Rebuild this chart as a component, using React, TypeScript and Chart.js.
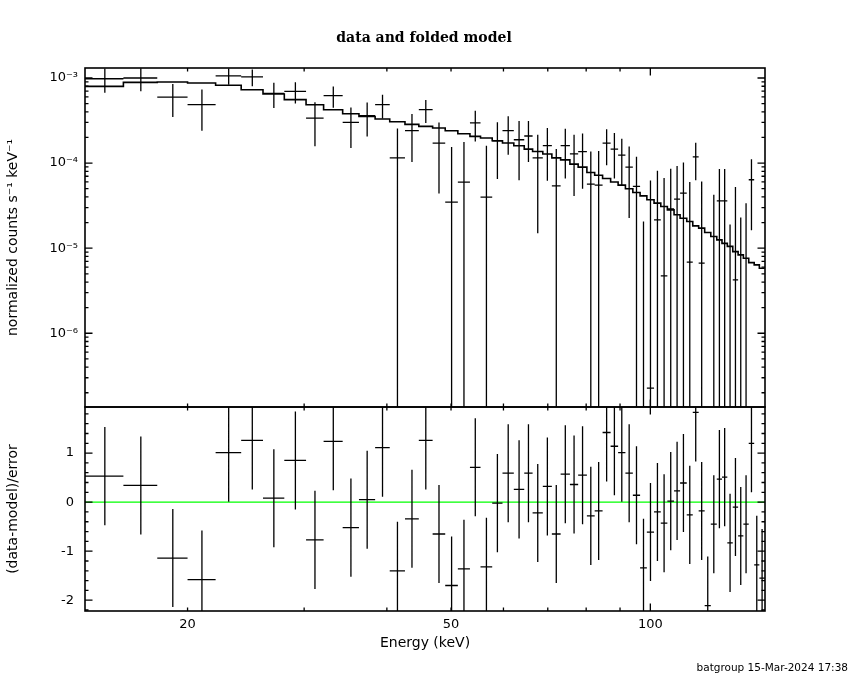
import React, { useEffect, useRef } from 'react';
import { Chart, registerables } from 'chart.js';

Chart.register(...registerables);

// ---------- text ----------
const TITLE = 'data and folded model';
const FOOTER = 'batgroup 15-Mar-2024 17:38';
const X_TITLE = 'Energy (keV)';
const Y_TITLE_TOP = 'normalized counts s\u207B\u00B9 keV\u207B\u00B9';
const Y_TITLE_RES = '(data-model)/error';

// ---------- data ----------
// energy bin edges (keV)
const binEdges = [
  14.0, 16.0, 18.0, 20.0, 22.05, 24.1, 26.0, 28.0, 30.2, 32.1,
  34.3, 36.3, 38.4, 40.4, 42.6, 44.7, 46.9, 49.0, 51.2, 53.4,
  55.4, 57.7, 59.8, 62.2, 64.5, 66.4, 68.8, 71.0, 73.2, 75.6,
  77.8, 80.2, 82.4, 84.7, 87.1, 89.4, 91.7, 94.1, 96.5, 98.8,
  101.3, 103.7, 106.1, 108.6, 110.9, 113.5, 115.9, 118.3, 120.8, 123.4,
  126.0, 128.3, 130.7, 133.2, 135.7, 138.2, 140.8, 143.5, 146.1, 148.9,
];

// folded model (counts s^-1 keV^-1)
const modelRate = [
  7.96e-4, 8.88e-4, 8.97e-4, 8.73e-4, 8.2e-4, 7.28e-4, 6.49e-4, 5.56e-4, 4.85e-4, 4.24e-4,
  3.8e-4, 3.53e-4, 3.3e-4, 3.06e-4, 2.85e-4, 2.7e-4, 2.58e-4, 2.4e-4, 2.21e-4, 2.06e-4,
  1.97e-4, 1.83e-4, 1.72e-4, 1.6e-4, 1.46e-4, 1.37e-4, 1.28e-4, 1.15e-4, 1.09e-4, 9.73e-5,
  8.97e-5, 7.75e-5, 7.2e-5, 6.6e-5, 6.0e-5, 5.5e-5, 5.0e-5, 4.51e-5, 4.12e-5, 3.7e-5,
  3.38e-5, 3.09e-5, 2.82e-5, 2.47e-5, 2.25e-5, 2.06e-5, 1.83e-5, 1.72e-5, 1.53e-5, 1.37e-5,
  1.25e-5, 1.14e-5, 1.05e-5, 9.1e-6, 8.34e-6, 7.62e-6, 6.77e-6, 6.36e-6, 5.82e-6,
];

// data (counts s^-1 keV^-1)
const dataRate = [
  9.8e-4, 1.0e-3, 5.97e-4, 4.85e-4, 1.06e-3, 1.03e-3, 6.6e-4, 6.96e-4, 3.38e-4, 6.19e-4,
  3.0e-4, 3.6e-4, 4.85e-4, 1.15e-4, 2.4e-4, 4.24e-4, 1.72e-4, 3.48e-5, 5.97e-5, 2.96e-4,
  3.98e-5, 1.83e-4, 2.4e-4, 1.88e-4, 2.08e-4, 1.15e-4, 1.6e-4, 5.41e-5, 1.6e-4, 1.28e-4,
  1.36e-4, 5.66e-5, 5.5e-5, 1.72e-4, 1.46e-4, 1.24e-4, 8.97e-5, 5.33e-5, -4.0e-5, 2.27e-7,
  2.15e-5, 4.72e-6, 2.9e-5, 3.77e-5, 4.44e-5, 6.84e-6, 1.18e-4, 6.67e-6, -9.4e-5, -9.7e-6,
  3.6e-5, 3.6e-5, -2.9e-5, 4.24e-6, -2.5e-5, -1.38e-5, 6.37e-5, -5.4e-5, -6.7e-5,
];

// 1-sigma data errors
const dataErr = [
  3.1e-4, 3.04e-4, 2.5e-4, 2.45e-4, 2.3e-4, 2.3e-4, 2.17e-4, 1.94e-4, 1.8e-4, 1.73e-4,
  1.5e-4, 1.55e-4, 1.5e-4, 1.4e-4, 1.37e-4, 1.28e-4, 1.28e-4, 1.2e-4, 1.17e-4, 1.17e-4,
  1.2e-4, 1.18e-4, 1.15e-4, 1.25e-4, 1.05e-4, 1.0e-4, 9.8e-5, 9.2e-5, 9.4e-5, 8.7e-5,
  8.6e-5, 8.0e-5, 8.4e-5, 7.8e-5, 8.0e-5, 6.9e-5, 6.7e-5, 6.5e-5, 6.06e-5, 6.2e-5,
  6.0e-5, 6.2e-5, 5.7e-5, 5.5e-5, 5.7e-5, 5.3e-5, 5.5e-5, 5.4e-5, 5.2e-5, 5.2e-5,
  4.9e-5, 4.9e-5, 4.8e-5, 4.8e-5, 4.8e-5, 4.76e-5, 4.75e-5, 4.7e-5, 4.7e-5,
];

// (data-model)/error
const residual = [
  0.53, 0.34, -1.14, -1.58, 1.01, 1.26, 0.08, 0.85, -0.77, 1.24,
  -0.52, 0.05, 1.11, -1.40, -0.34, 1.26, -0.65, -1.70, -1.36, 0.71,
  -1.32, -0.02, 0.59, 0.26, 0.59, -0.22, 0.32, -0.65, 0.57, 0.36,
  0.55, -0.28, -0.18, 1.42, 1.14, 1.01, 0.59, 0.14, -1.34, -0.61,
  -0.20, -0.43, 0.02, 0.23, 0.39, -0.26, 1.83, -0.18, -2.11, -0.45,
  0.47, 0.51, -0.83, -0.10, -0.69, -0.45, 1.20, -1.28, -1.55,
];
const RESID_ERR = 1;

// ---------- axes ----------
const xRange = [14, 149];
const yTopRange = [1.36e-7, 1.31e-3];
const yResRange = [-2.22, 1.94];
const xLabelTicks = [20, 50, 100];
const xMinorTicks = [20, 30, 40, 50, 60, 70, 80, 90];
const xMajorTicks = [100];
const yTopLabelTicks = [1e-6, 1e-5, 1e-4, 1e-3];
const yTopDecades = [1e-7, 1e-6, 1e-5, 1e-4, 1e-3];
const yTopMinorMultipliers = [2, 3, 4, 5, 6, 7, 8, 9];
const yResLabelTicks = [-2, -1, 0, 1];
const yResMinorStep = 0.2;

const SUP: Record<string, string> = {
  '-': '\u207B', '0': '\u2070', '1': '\u00B9', '2': '\u00B2', '3': '\u00B3',
  '4': '\u2074', '5': '\u2075', '6': '\u2076', '7': '\u2077', '8': '\u2078', '9': '\u2079',
};
const powLabel = (v: number) => {
  const e = Math.round(Math.log10(v));
  return '10' + String(e).split('').map((c) => SUP[c] || c).join('');
};

const SANS = 'DejaVu Sans';

const xspecPlugin = {
  id: 'xspecPanels',
  afterDatasetsDraw(chart: any) {
    const ctx = chart.ctx as CanvasRenderingContext2D;
    const xs = chart.scales.x;
    const yt = chart.scales.y;
    const yr = chart.scales.y2;
    const L = chart.chartArea.left;
    const R = chart.chartArea.right;
    const nBins = binEdges.length - 1;

    const drawCrosses = (ys: any, vals: number[], errs: (i: number) => number, isLog: boolean) => {
      ctx.save();
      ctx.beginPath();
      ctx.rect(L, ys.top, R - L, ys.bottom - ys.top);
      ctx.clip();
      const pix = (v: number) => {
        if (isLog && v <= 0) return ys.bottom + 10;
        return ys.getPixelForValue(v);
      };
      ctx.strokeStyle = '#000';
      ctx.lineWidth = 1.3;
      ctx.beginPath();
      for (let i = 0; i < nBins; i++) {
        const lo = binEdges[i];
        const hi = binEdges[i + 1];
        const xl = xs.getPixelForValue(lo);
        const xh = xs.getPixelForValue(hi);
        const xc = xs.getPixelForValue((lo + hi) / 2);
        const v = vals[i];
        const e = errs(i);
        const yU = pix(v + e);
        const yL = pix(v - e);
        const yC = pix(v);
        ctx.moveTo(xc, yU);
        ctx.lineTo(xc, yL);
        ctx.moveTo(xl, yC);
        ctx.lineTo(xh, yC);
      }
      ctx.stroke();
      ctx.restore();
    };

    drawCrosses(yt, dataRate, (i) => dataErr[i], true);
    drawCrosses(yr, residual, () => RESID_ERR, false);

    const MAJ = 7.5;
    const MIN = 3.5;
    const drawFrame = (ys: any, yTicks: { v: number; major: boolean }[]) => {
      const T = ys.top;
      const B = ys.bottom;
      ctx.save();
      ctx.strokeStyle = '#000';
      ctx.lineWidth = 1.3;
      ctx.beginPath();
      const xt = [
        ...xMinorTicks.map((v) => ({ v, major: false })),
        ...xMajorTicks.map((v) => ({ v, major: true })),
      ];
      for (const t of xt) {
        const px = xs.getPixelForValue(t.v);
        const len = t.major ? MAJ : MIN;
        ctx.moveTo(px, T);
        ctx.lineTo(px, T + len);
        ctx.moveTo(px, B);
        ctx.lineTo(px, B - len);
      }
      for (const t of yTicks) {
        const py = ys.getPixelForValue(t.v);
        if (py < T - 0.5 || py > B + 0.5) continue;
        const len = t.major ? MAJ : MIN;
        ctx.moveTo(L, py);
        ctx.lineTo(L + len, py);
        ctx.moveTo(R, py);
        ctx.lineTo(R - len, py);
      }
      ctx.stroke();
      ctx.lineWidth = 1.6;
      ctx.strokeRect(L, T, R - L, B - T);
      ctx.restore();
    };

    const topTicks: { v: number; major: boolean }[] = [];
    for (const d of yTopDecades) {
      topTicks.push({ v: d, major: true });
      for (const m of yTopMinorMultipliers) topTicks.push({ v: d * m, major: false });
    }
    const resTicks: { v: number; major: boolean }[] = [];
    const kMin = Math.ceil(yResRange[0] / yResMinorStep - 1e-9);
    const kMax = Math.floor(yResRange[1] / yResMinorStep + 1e-9);
    for (let k = kMin; k <= kMax; k++) {
      const v = Math.round(k * yResMinorStep * 10) / 10;
      resTicks.push({ v, major: yResLabelTicks.includes(v) });
    }
    drawFrame(yt, topTicks);
    drawFrame(yr, resTicks);
  },
};

export default function App() {
  const canvasRef = useRef<HTMLCanvasElement | null>(null);

  useEffect(() => {
    const canvas = canvasRef.current;
    if (!canvas) return;
    Chart.defaults.color = '#000';

    const centers = binEdges.slice(0, -1).map((lo, i) => (lo + binEdges[i + 1]) / 2);
    const modelSteps = [
      ...modelRate.map((m, i) => ({ x: binEdges[i], y: m })),
      { x: binEdges[binEdges.length - 1], y: modelRate[modelRate.length - 1] },
    ];

    const chart = new Chart(canvas, {
      type: 'line',
      data: {
        datasets: [
          {
            type: 'line',
            label: 'model',
            data: modelSteps,
            stepped: true,
            borderColor: '#000',
            borderWidth: 1.6,
            pointRadius: 0,
            fill: false,
            xAxisID: 'x',
            yAxisID: 'y',
          },
          {
            type: 'scatter',
            label: 'data',
            data: centers.map((c, i) => ({ x: c, y: dataRate[i] })).filter((p) => p.y > 0),
            pointRadius: 0,
            xAxisID: 'x',
            yAxisID: 'y',
          },
          {
            type: 'line',
            label: 'zero',
            data: [
              { x: xRange[0], y: 0 },
              { x: xRange[1], y: 0 },
            ],
            borderColor: '#00ff00',
            borderWidth: 1.4,
            pointRadius: 0,
            fill: false,
            xAxisID: 'x',
            yAxisID: 'y2',
          },
          {
            type: 'scatter',
            label: 'residual',
            data: centers.map((c, i) => ({ x: c, y: residual[i] })),
            pointRadius: 0,
            xAxisID: 'x',
            yAxisID: 'y2',
          },
        ],
      } as any,
      options: {
        responsive: false,
        animation: false,
        devicePixelRatio: 1,
        layout: { padding: { left: 0, right: 2, top: 0, bottom: 0 } },
        plugins: {
          legend: { display: false },
          tooltip: { enabled: false },
          title: {
            display: true,
            text: TITLE,
            color: '#000',
            font: { family: 'DejaVu Serif', size: 14, weight: 'bold', lineHeight: 1.2 },
            padding: { top: 29.6, bottom: 21.6 },
          },
          subtitle: {
            display: true,
            position: 'bottom',
            align: 'end',
            text: FOOTER,
            color: '#000',
            font: { family: SANS, size: 10.5, lineHeight: 1.2 },
            padding: { top: 8.7, bottom: 5.7 },
          },
        },
        scales: {
          x: {
            type: 'logarithmic',
            position: 'bottom',
            min: xRange[0],
            max: xRange[1],
            grid: { display: false, drawTicks: false },
            border: { display: false },
            afterBuildTicks: (s: any) => {
              s.ticks = xLabelTicks.map((v) => ({ value: v }));
            },
            afterFit: (s: any) => {
              s.height = 42;
            },
            ticks: {
              autoSkip: false,
              maxRotation: 0,
              padding: 6,
              color: '#000',
              font: { family: SANS, size: 13 },
              callback: (v: any) => String(v),
            },
            title: {
              display: true,
              text: X_TITLE,
              color: '#000',
              font: { family: SANS, size: 14, lineHeight: 1.2 },
              padding: { top: 0, bottom: 1.2 },
            },
          },
          // residual panel declared first: Chart.js places left-stacked axes in reverse order
          y2: {
            type: 'linear',
            position: 'left',
            stack: 'panels',
            stackWeight: 204,
            min: yResRange[0],
            max: yResRange[1],
            grid: { display: false, drawTicks: false },
            border: { display: false },
            afterBuildTicks: (s: any) => {
              s.ticks = yResLabelTicks.map((v) => ({ value: v }));
            },
            afterFit: (s: any) => {
              s.width = 85;
            },
            ticks: {
              autoSkip: false,
              padding: 11,
              color: '#000',
              font: { family: SANS, size: 13 },
              callback: (v: any) => String(v),
            },
            title: {
              display: true,
              text: Y_TITLE_RES,
              color: '#000',
              font: { family: SANS, size: 14, lineHeight: 1.2 },
              padding: { top: 4.5, bottom: 0 },
            },
          },
          y: {
            type: 'logarithmic',
            position: 'left',
            stack: 'panels',
            stackWeight: 339,
            min: yTopRange[0],
            max: yTopRange[1],
            grid: { display: false, drawTicks: false },
            border: { display: false },
            afterBuildTicks: (s: any) => {
              s.ticks = yTopLabelTicks.map((v) => ({ value: v }));
            },
            afterFit: (s: any) => {
              s.width = 85;
            },
            ticks: {
              autoSkip: false,
              padding: 7,
              color: '#000',
              font: { family: SANS, size: 13 },
              callback: (v: any) => powLabel(Number(v)),
            },
            title: {
              display: true,
              text: Y_TITLE_TOP,
              color: '#000',
              font: { family: SANS, size: 14, lineHeight: 1.2 },
              padding: { top: 4.5, bottom: 0 },
            },
          },
          yPad: {
            type: 'linear',
            position: 'right',
            display: true,
            grid: { display: false, drawTicks: false },
            border: { display: false },
            ticks: { display: false },
            afterFit: (s: any) => {
              s.width = 83;
            },
          },
        },
      } as any,
      plugins: [xspecPlugin],
    });

    return () => {
      chart.destroy();
    };
  }, []);

  return (
    <div style={{ position: 'absolute', left: 0, top: 0, width: 850, height: 680, background: '#fff' }}>
      <canvas ref={canvasRef} width={850} height={680} style={{ display: 'block', width: 850, height: 680 }} />
    </div>
  );
}
